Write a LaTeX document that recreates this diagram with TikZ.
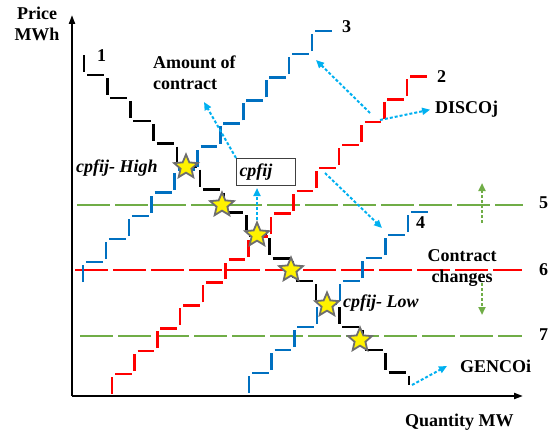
\documentclass[tikz,border=0pt]{standalone}
\usepackage{fontspec}
\setmainfont{Liberation Serif}
\usetikzlibrary{arrows.meta,shapes.geometric}
\definecolor{stepblue}{HTML}{0070C0}
\definecolor{stepred}{HTML}{FF0000}
\definecolor{lvlgreen}{HTML}{70AD47}
\definecolor{ptrblue}{HTML}{00B0F0}
\definecolor{stargray}{HTML}{6E6E6E}
\definecolor{boxgray}{HTML}{404040}
\begin{document}
\begin{tikzpicture}[x=1pt,y=-1pt,
  seg/.style={line width=2.6pt, shorten <=3pt, shorten >=3pt},
  lbl/.style={font=\fontsize{18}{21}\selectfont\bfseries, inner sep=0pt},
  ilbl/.style={font=\fontsize{18}{21}\selectfont\bfseries\itshape, inner sep=0pt},
  level/.style={line width=2.5pt, dash pattern=on 33pt off 5pt},
  ptr/.style={ptrblue, line width=2pt, dash pattern=on 3pt off 2pt,
    -{Triangle[length=8pt,width=7pt]}},
  moveptr/.style={lvlgreen, line width=2pt, dash pattern=on 3pt off 2pt,
    -{Triangle[length=8pt,width=7pt]}},
  hit/.style={star, star points=5, star point ratio=2.2, minimum size=25pt,
    inner sep=0pt, fill=yellow, draw=stargray, line width=1.8pt},
  axis/.style={line width=2pt, -{Triangle[length=9pt,width=6pt]}}]
\useasboundingbox (0,0) rectangle (559,436);

% price levels 5, 6, 7
\coordinate (l5a) at (77,205);  \coordinate (l5b) at (523,205);
\coordinate (l6a) at (75,270);  \coordinate (l6b) at (522,270);
\coordinate (l7a) at (80,336);  \coordinate (l7b) at (522,336);
\draw[level,lvlgreen] (l5a) -- (l5b);
\draw[level,stepred]  (l6a) -- (l6b);
\draw[level,lvlgreen] (l7a) -- (l7b);

% axes
\coordinate (O) at (72,396);
\coordinate (ytop) at (72,15);
\coordinate (xend) at (523,396);
\draw[axis] (O) -- (ytop);
\draw[axis] (O) -- (xend);

% offer curve 1 (GENCOi)
\foreach \k in {0,...,13}{
  \draw[seg,black] ({84+23.2*\k},{52.1+22.9*\k}) -- ({84+23.2*\k},{75+22.9*\k});
  \draw[seg,black] ({84+23.2*\k},{75+22.9*\k}) -- ({107.2+23.2*\k},{75+22.9*\k});
}
\draw[seg,black] (408.8,372.7) -- (408.8,388);

% bid curve 2 (DISCOj)
\foreach \k in {0,...,13}{
  \draw[seg,stepred] ({112+22.7*\k},{396.9-22.9*\k}) -- ({112+22.7*\k},{374-22.9*\k});
  \draw[seg,stepred] ({112+22.7*\k},{374-22.9*\k}) -- ({134.7+22.7*\k},{374-22.9*\k});
}

% curve 3
\foreach \k in {0,...,10}{
  \draw[seg,stepblue] ({83+22.9*\k},{285.1-23.1*\k}) -- ({83+22.9*\k},{262-23.1*\k});
  \draw[seg,stepblue] ({83+22.9*\k},{262-23.1*\k}) -- ({105.9+22.9*\k},{262-23.1*\k});
}

% curve 4
\foreach \k in {0,...,7}{
  \draw[seg,stepblue] ({249+22.7*\k},{396-23*\k}) -- ({249+22.7*\k},{373-23*\k});
  \draw[seg,stepblue] ({249+22.7*\k},{373-23*\k}) -- ({271.7+22.7*\k},{373-23*\k});
}

% labels
\node[lbl, align=center] (price) at (37,23.5) {Price\\MWh};
\node[lbl, anchor=base west] (qty) at (405,426) {Quantity MW};
\node[lbl, anchor=base west] (c1) at (97,62) {1};
\node[lbl, anchor=base west] (c2) at (437,82) {2};
\node[lbl, anchor=base west] (c3) at (342,33) {3};
\node[lbl, anchor=base west] (c4) at (416,228) {4};
\node[lbl, anchor=base west] (n5) at (539,208) {5};
\node[lbl, anchor=base west] (n6) at (539,275) {6};
\node[lbl, anchor=base west] (n7) at (539,340) {7};
\node[lbl, anchor=base west] (disco) at (435,113) {DISCOj};
\node[lbl, anchor=base west] (genco) at (460,372) {GENCOi};
\node[lbl, align=left, anchor=west] (amt) at (153,72.5) {Amount of\\contract};
\node[lbl, align=center] (chg) at (462,268.2) {Contract\\changes};
\node[ilbl, anchor=base west] (high) at (76,172) {cpfij- High};
\node[ilbl, anchor=base west] (low) at (343,307) {cpfij- Low};
\node[ilbl, draw=boxgray, line width=1pt, anchor=north west, text width=53pt,
  align=left, inner sep=3pt, minimum height=27pt] (cp) at (236,158) {cpfij};

% pointer ends
\coordinate (amtTip) at (204,102);
\coordinate (rA) at (370,113);
\coordinate (tip3) at (316,60);
\coordinate (rB) at (380,120);
\coordinate (rC) at (325,173);
\coordinate (tip4) at (382,228);
\coordinate (gEnd) at (412,385);
\coordinate (genTip) at (447,366);
\coordinate (upA) at (482,223);
\coordinate (upB) at (482,183);
\coordinate (dnA) at (482,283);
\coordinate (dnB) at (482,315);

% intersections
\node[hit] (h1) at (186,167) {};
\node[hit] (h2) at (222,205) {};
\node[hit] (h3) at (257,235) {};
\node[hit] (h4) at (291,270) {};
\node[hit] (h5) at (327,305) {};
\node[hit] (h6) at (360,340) {};

% pointers
\draw[ptr] (cp.north west) -- (amtTip);
\draw[ptr, shorten >=2pt] (h3.north) -- (h3.north |- cp.south);
\draw[ptr] (rA) -- (tip3);
\draw[ptr, shorten >=5pt] (rB) -- (disco.west);
\draw[ptr] (rC) -- (tip4);
\draw[ptr] (gEnd) -- (genTip);
\draw[moveptr] (upA) -- (upB);
\draw[moveptr] (dnA) -- (dnB);
\end{tikzpicture}
\end{document}
